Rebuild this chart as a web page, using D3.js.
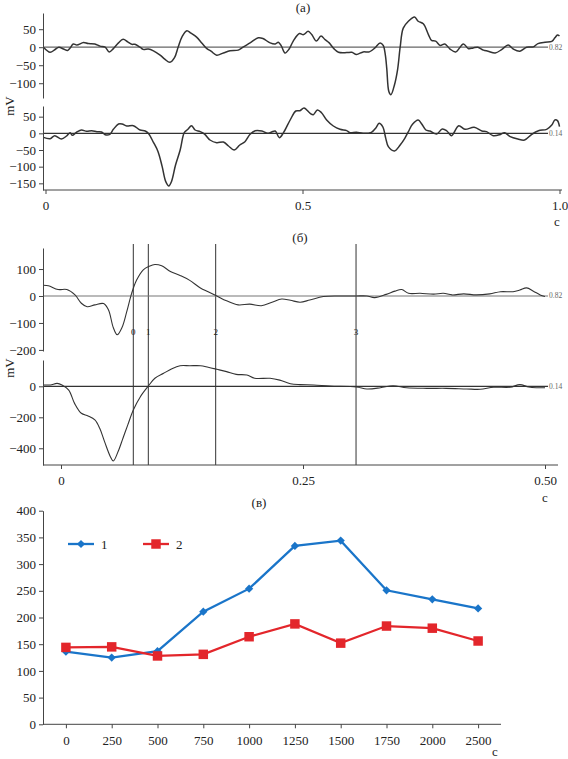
<!DOCTYPE html>
<html><head><meta charset="utf-8">
<script src="https://cdn.jsdelivr.net/npm/d3@7"></script>
<style>body{margin:0;background:#fff} text{font-family:"Liberation Serif","DejaVu Serif",serif;fill:#222}</style>
</head><body>
<svg id="c" width="568" height="759"></svg>
<script>
// ---------- Panel (а): two traces, [time s, mV]
const traceA1 = [[-0.004,0],[0.009,-14],[0.018,-7],[0.026,0],[0.035,-5],[0.043,-9],[0.048,-2],[0.054,9],[0.061,6],[0.074,13],[0.083,10],[0.096,9],[0.106,3],[0.116,0],[0.124,-13],[0.132,-4],[0.142,12],[0.151,22],[0.160,15],[0.168,8],[0.174,8],[0.184,0],[0.190,-6],[0.200,-5],[0.210,-10],[0.223,-22],[0.232,-33],[0.242,-42],[0.251,-29],[0.258,0],[0.266,30],[0.275,46],[0.283,39],[0.294,28],[0.304,12],[0.314,-4],[0.322,-11],[0.333,-22],[0.346,-16],[0.359,-10],[0.375,-8],[0.385,1],[0.398,12],[0.414,26],[0.423,24],[0.437,12],[0.447,9],[0.453,14],[0.459,3],[0.466,-16],[0.474,-5],[0.482,17],[0.494,38],[0.502,35],[0.511,44],[0.518,35],[0.527,17],[0.536,31],[0.544,21],[0.552,12],[0.561,-4],[0.570,-14],[0.586,-15],[0.596,-14],[0.605,-20],[0.618,-13],[0.630,-13],[0.641,-2],[0.651,12],[0.657,5],[0.661,-20],[0.664,-60],[0.668,-123],[0.672,-132],[0.679,-104],[0.685,-62],[0.690,0],[0.696,53],[0.706,72],[0.718,84],[0.725,72],[0.735,65],[0.745,35],[0.751,19],[0.759,17],[0.768,5],[0.777,9],[0.787,-5],[0.798,-13],[0.813,9],[0.823,-4],[0.832,-2],[0.841,0],[0.852,-8],[0.861,-11],[0.875,-16],[0.888,-6],[0.900,6],[0.910,-5],[0.923,-11],[0.936,0],[0.949,1],[0.958,10],[0.972,14],[0.985,16],[0.991,26],[0.996,34],[1.0,31]];
const traceA2 = [[-0.004,-12],[0.009,-16],[0.018,-7],[0.031,-17],[0.041,-8],[0.048,2],[0.052,-6],[0.061,4],[0.070,10],[0.080,6],[0.090,8],[0.100,5],[0.109,4],[0.116,-4],[0.125,-3],[0.132,12],[0.142,28],[0.149,28],[0.158,22],[0.171,23],[0.184,10],[0.194,7],[0.200,0],[0.210,-27],[0.219,-55],[0.227,-100],[0.234,-145],[0.240,-158],[0.245,-145],[0.253,-95],[0.262,-50],[0.270,2],[0.277,12],[0.284,23],[0.291,10],[0.301,5],[0.310,-3],[0.320,-20],[0.333,-28],[0.346,-26],[0.356,-38],[0.367,-50],[0.378,-35],[0.388,-25],[0.398,-3],[0.408,8],[0.421,7],[0.432,0],[0.440,4],[0.447,7],[0.455,-13],[0.463,2],[0.476,40],[0.487,67],[0.495,68],[0.503,76],[0.515,60],[0.521,56],[0.529,70],[0.537,62],[0.547,40],[0.560,22],[0.573,12],[0.586,8],[0.592,2],[0.605,3],[0.618,0],[0.634,3],[0.643,17],[0.649,30],[0.656,20],[0.662,-15],[0.667,-40],[0.679,-53],[0.690,-35],[0.699,-15],[0.706,5],[0.714,27],[0.725,40],[0.732,28],[0.740,10],[0.748,7],[0.761,-2],[0.772,13],[0.781,7],[0.790,-7],[0.804,23],[0.816,12],[0.834,18],[0.849,7],[0.858,5],[0.871,-7],[0.884,-4],[0.893,2],[0.904,-10],[0.919,-17],[0.932,-20],[0.946,-3],[0.959,8],[0.975,12],[0.985,25],[0.991,40],[0.996,38],[1.0,20]];
const ticksA1 = [50,0,-50,-100];
const ticksA2 = [50,0,-50,-100,-150];
const ticksAx = [0,0.5,1.0];
const tickLabelsAx = ["0","0.5","1.0"];

// ---------- Panel (б)
const traceB1 = [[-0.018,40],[-0.013,38],[-0.003,24],[0.006,24],[0.0145,4],[0.021,-27],[0.027,-40],[0.035,-33],[0.044,-28],[0.049,-51],[0.054,-117],[0.058,-144],[0.063,-117],[0.068,-57],[0.073,10],[0.078,58],[0.085,97],[0.091,110],[0.097,117],[0.104,112],[0.113,91],[0.123,76],[0.133,58],[0.144,30],[0.152,16],[0.161,0],[0.171,-18],[0.183,-33],[0.195,-30],[0.207,-36],[0.218,-23],[0.228,-11],[0.237,-16],[0.247,-23],[0.257,-15],[0.271,-2],[0.288,0],[0.305,0],[0.316,0],[0.324,-6],[0.336,6],[0.345,18],[0.352,24],[0.359,10],[0.371,10],[0.385,7],[0.395,10],[0.404,4],[0.416,8],[0.429,4],[0.443,8],[0.454,16],[0.467,16],[0.474,22],[0.481,30],[0.488,18],[0.495,4],[0.500,-2]];
const traceB2 = [[-0.018,9],[-0.011,9],[-0.004,19],[0.001,9],[0.008,-24],[0.014,-110],[0.021,-174],[0.028,-191],[0.035,-217],[0.040,-271],[0.045,-357],[0.051,-454],[0.054,-482],[0.059,-421],[0.064,-335],[0.069,-249],[0.0747,-153],[0.082,-67],[0.090,0],[0.097,52],[0.106,84],[0.114,112],[0.123,133],[0.133,133],[0.144,133],[0.152,123],[0.161,110],[0.171,95],[0.181,77],[0.192,73],[0.200,52],[0.216,52],[0.226,40],[0.237,17],[0.247,11],[0.261,9],[0.278,2],[0.305,-4],[0.316,-17],[0.330,-9],[0.343,4],[0.357,-9],[0.378,-13],[0.398,-13],[0.419,-17],[0.433,-19],[0.447,-6],[0.464,-6],[0.474,11],[0.483,-4],[0.491,-9],[0.500,-9]];
const ticksB1 = [100,0,-100,-200];
const ticksB2 = [0,-200,-400];
const ticksBx = [0,0.25,0.5];
const tickLabelsBx = ["0","0.25","0.50"];
const markerTimes = [0.0747,0.0902,0.1598,0.3048];
const markerLabels = ["0","1","2","3"];

// ---------- Panel (в)
const categoriesC = ["0","250","500","750","1000","1250","1500","1750","2000","2500"];
const series1 = [136,125,137,211,254,334,344,251,234,217];
const series2 = [144,145,128,131,164,188,152,184,180,156];
const ticksC = [0,50,100,150,200,250,300,350,400];
const seriesNames = ["1","2"];

const svg = d3.select("#c");
const lineCol = "#333";
const FS = 13;

function drawTrace(data, x, y, xLeft, xRight, zeroCol, lbl, w){
  svg.append("line").attr("x1",xLeft).attr("x2",xRight).attr("y1",y(0)).attr("y2",y(0))
    .attr("stroke",zeroCol).attr("stroke-width",1.2);
  svg.append("text").attr("x",xRight+1).attr("y",y(0)+2.5).attr("font-size",7.5).style("fill","#666").text(lbl);
  svg.append("path").datum(data)
    .attr("d", d3.line().x(d=>x(d[0])).y(d=>y(d[1])).curve(d3.curveCatmullRom.alpha(0.5)))
    .attr("fill","none").attr("stroke",lineCol).attr("stroke-width",w).attr("stroke-linejoin","round");
}
function yAxis(y, vals, xPos){
  const g = svg.append("g").attr("transform",`translate(${xPos},0)`)
    .call(d3.axisLeft(y).tickValues(vals).tickSize(4).tickSizeOuter(0).tickPadding(3).tickFormat(d3.format("d")));
  g.select(".domain").attr("stroke","#444");
  g.selectAll(".tick line").attr("stroke","#444");
  g.selectAll("text").attr("font-size",FS).attr("font-family","Liberation Serif").style("fill","#222");
  return g;
}
function xAxis(x, vals, labels, yPos, x0, x1){
  svg.append("line").attr("x1",x0).attr("x2",x1).attr("y1",yPos).attr("y2",yPos).attr("stroke","#444");
  const g = svg.append("g").attr("transform",`translate(0,${yPos})`)
    .call(d3.axisBottom(x).tickValues(vals).tickSize(4).tickSizeOuter(0).tickPadding(7).tickFormat((d,i)=>labels[i]));
  g.select(".domain").remove();
  g.selectAll(".tick line").attr("stroke","#444");
  g.selectAll("text").attr("font-size",FS).attr("font-family","Liberation Serif").style("fill","#222");
}

// ===== Panel (а)
const xA = d3.scaleLinear().domain([0,1]).range([45.5,559.5]);
const yA1 = d3.scaleLinear().domain([-141,95]).range([98,13]);
const yA2 = d3.scaleLinear().domain([-170,82]).range([190,106]);
drawTrace(traceA1, xA, yA1, 43, 548, "#666", "0.82", 1.5);
drawTrace(traceA2, xA, yA2, 43, 548, "#333", "0.14", 1.5);
yAxis(yA1, ticksA1, 43);
yAxis(yA2, ticksA2, 43);
xAxis(xA, ticksAx, tickLabelsAx, 190, 43, 562);
svg.append("text").attr("x",303).attr("y",12).attr("text-anchor","middle").attr("font-size",FS).text("(а)");
svg.append("text").attr("transform","translate(14,106) rotate(-90)").attr("text-anchor","middle").attr("font-size",FS).text("mV");
svg.append("text").attr("x",557).attr("y",226).attr("text-anchor","middle").attr("font-size",FS).text("с");

// ===== Panel (б)
const xB = d3.scaleLinear().domain([0,0.5]).range([61,545]);
const yB1 = d3.scaleLinear().domain([-204,178]).range([351,248]);
const yB2 = d3.scaleLinear().domain([-508,170]).range([465,360]);
markerTimes.forEach((t,i)=>{
  svg.append("line").attr("x1",xB(t)).attr("x2",xB(t)).attr("y1",244).attr("y2",465).attr("stroke","#333").attr("stroke-width",1);
  svg.append("text").attr("x",xB(t)).attr("y",335).attr("text-anchor","middle").attr("font-size",9).text(markerLabels[i]);
});
drawTrace(traceB1, xB, yB1, 43, 548, "#777", "0.82", 1.1);
drawTrace(traceB2, xB, yB2, 43, 548, "#333", "0.14", 1.1);
yAxis(yB1, ticksB1, 43);
yAxis(yB2, ticksB2, 43);
xAxis(xB, ticksBx, tickLabelsBx, 465, 43, 558);
svg.append("text").attr("x",300).attr("y",242).attr("text-anchor","middle").attr("font-size",FS).text("(б)");
svg.append("text").attr("transform","translate(14,368) rotate(-90)").attr("text-anchor","middle").attr("font-size",FS).text("mV");
svg.append("text").attr("x",545).attr("y",502).attr("text-anchor","middle").attr("font-size",FS).text("с");

// ===== Panel (в)
const xC = d3.scaleBand().domain(categoriesC).range([43,501]).padding(0);
const yC = d3.scaleLinear().domain([0,400]).range([724.3,510.7]);
const cx = c => xC(c) + xC.bandwidth()/2;
yAxis(yC, ticksC, 43);
{
  svg.append("line").attr("x1",43).attr("x2",501).attr("y1",yC(0)).attr("y2",yC(0)).attr("stroke","#444");
  const g = svg.append("g").attr("transform",`translate(0,${yC(0)})`)
    .call(d3.axisBottom(d3.scalePoint().domain(categoriesC).range([cx(categoriesC[0]), cx(categoriesC[categoriesC.length-1])]))
      .tickSize(4).tickSizeOuter(0).tickPadding(7));
  g.select(".domain").remove();
  g.selectAll(".tick line").attr("stroke","#444");
  g.selectAll("text").attr("font-size",FS).attr("font-family","Liberation Serif").style("fill","#222");
}
const colors = ["#1a75c9","#e3262b"];
const syms = [d3.symbol(d3.symbolSquare, 34), d3.symbol(d3.symbolSquare, 90)];
const rot = [45, 0];
[series1, series2].forEach((s,k)=>{
  const pts = categoriesC.map((c,i)=>[cx(c), yC(s[i])]);
  svg.append("path").datum(pts).attr("d", d3.line()).attr("fill","none")
    .attr("stroke",colors[k]).attr("stroke-width",2.3);
  svg.selectAll(null).data(pts).join("path").attr("d", syms[k]())
    .attr("transform",d=>`translate(${d[0]},${d[1]}) rotate(${rot[k]})`).attr("fill",colors[k]);
});
// legend
const legX = [68,143];
seriesNames.forEach((n,k)=>{
  svg.append("line").attr("x1",legX[k]).attr("x2",legX[k]+26).attr("y1",544).attr("y2",544)
    .attr("stroke",colors[k]).attr("stroke-width",2.3);
  svg.append("path").attr("d", syms[k]()).attr("transform",`translate(${legX[k]+13},544) rotate(${rot[k]})`).attr("fill",colors[k]);
  svg.append("text").attr("x",legX[k]+33).attr("y",548.5).attr("font-size",FS).text(n);
});
svg.append("text").attr("x",259).attr("y",507).attr("text-anchor","middle").attr("font-size",FS).text("(в)");
svg.append("text").attr("x",495).attr("y",756).attr("text-anchor","middle").attr("font-size",FS).text("с");
</script>
</body></html>
